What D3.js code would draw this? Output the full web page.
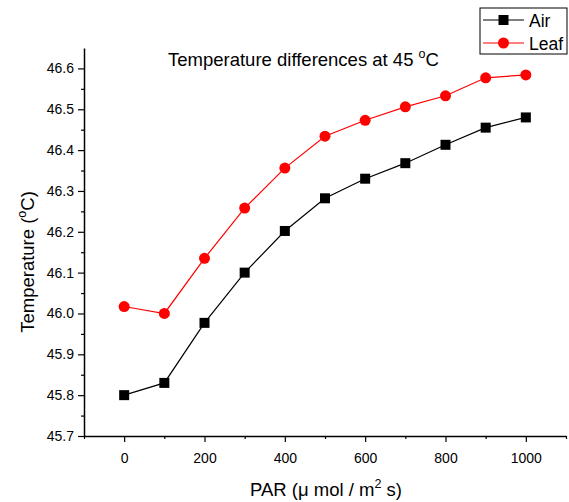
<!DOCTYPE html>
<html>
<head>
<meta charset="utf-8">
<script src="https://cdn.jsdelivr.net/npm/d3@7"></script>
<style>
  body { margin: 0; background: #fff; }
  svg { display: block; font-family: "Liberation Sans", Arial, sans-serif; }
</style>
</head>
<body>
<svg id="chart" width="569" height="502"></svg>
<script>
// PAR levels (µmol / m² s)
const par = [0, 100, 200, 300, 400, 500, 600, 700, 800, 900, 1000];
// Air temperature (°C)
const airTemp = [45.80, 45.83, 45.977, 46.10, 46.202, 46.282, 46.33, 46.368, 46.413, 46.455, 46.48];
// Leaf temperature (°C)
const leafTemp = [46.017, 46.0, 46.135, 46.258, 46.356, 46.434, 46.473, 46.506, 46.533, 46.577, 46.584];

const xTicks = [0, 200, 400, 600, 800, 1000];
const yTicks = [45.7, 45.8, 45.9, 46.0, 46.1, 46.2, 46.3, 46.4, 46.5, 46.6];

const svg = d3.select("#chart");
const plotLeft = 84, plotRight = 566, plotTop = 48, plotBottom = 436;

const x = d3.scaleLinear().domain([-100, 1100]).range([plotLeft, plotRight]);
const y = d3.scaleLinear().domain([45.7, 46.65]).range([plotBottom, plotTop]);

// minor ticks
const xMinor = d3.range(-100, 1101, 100).filter(v => !xTicks.includes(v));
const yMinor = d3.range(45.75, 46.65, 0.1).map(v => +v.toFixed(2));

const xAxis = svg.append("g").attr("transform", `translate(0,${plotBottom})`)
  .call(d3.axisBottom(x).tickValues(xTicks).tickFormat(d3.format("d")).tickSize(6).tickSizeOuter(0));
svg.append("g").attr("transform", `translate(0,${plotBottom})`)
  .call(d3.axisBottom(x).tickValues(xMinor).tickFormat("").tickSize(3).tickSizeOuter(0))
  .select(".domain").remove();

const yAxis = svg.append("g").attr("transform", `translate(${plotLeft},0)`)
  .call(d3.axisLeft(y).tickValues(yTicks).tickFormat(d3.format(".1f")).tickSize(6).tickSizeOuter(0));
svg.append("g").attr("transform", `translate(${plotLeft},0)`)
  .call(d3.axisLeft(y).tickValues(yMinor).tickFormat("").tickSize(3).tickSizeOuter(0))
  .select(".domain").remove();

svg.selectAll(".domain").attr("stroke", "#000").attr("stroke-width", 1.5);
svg.selectAll(".tick line").attr("stroke", "#000").attr("stroke-width", 1.2);
svg.selectAll(".tick text").attr("font-size", 14).attr("fill", "#000")
  .attr("font-family", "'Liberation Sans', Arial, sans-serif");
xAxis.selectAll(".tick text").attr("dy", "1.25em");
yAxis.selectAll(".tick text").attr("x", -10);

// series lines and markers
const line = d3.line().x((d, i) => x(par[i])).y(d => y(d));

svg.append("path").datum(airTemp).attr("d", line)
  .attr("fill", "none").attr("stroke", "#000").attr("stroke-width", 1.2);
svg.append("path").datum(leafTemp).attr("d", line)
  .attr("fill", "none").attr("stroke", "#ff0000").attr("stroke-width", 1.2);

const sq = 10;
svg.append("g").selectAll("rect").data(airTemp).join("rect")
  .attr("x", (d, i) => x(par[i]) - sq / 2).attr("y", d => y(d) - sq / 2)
  .attr("width", sq).attr("height", sq).attr("fill", "#000");
svg.append("g").selectAll("circle").data(leafTemp).join("circle")
  .attr("cx", (d, i) => x(par[i])).attr("cy", d => y(d)).attr("r", 5.5)
  .attr("fill", "#ff0000");

// title
const title = svg.append("text").attr("x", 168).attr("y", 66)
  .attr("font-size", 18.5).attr("fill", "#000");
title.append("tspan").text("Temperature differences at 45 ");
title.append("tspan").attr("font-size", 12.5).attr("dy", -8).text("o");
title.append("tspan").attr("dy", 8).text("C");

// y label
const yl = svg.append("text").attr("transform", "translate(34,262) rotate(-90)")
  .attr("text-anchor", "middle").attr("font-size", 18.5).attr("fill", "#000");
yl.append("tspan").text("Temperature (");
yl.append("tspan").attr("font-size", 12.5).attr("dy", -8).text("o");
yl.append("tspan").attr("dy", 8).text("C)");

// x label
const xl = svg.append("text").attr("x", 326).attr("y", 496)
  .attr("text-anchor", "middle").attr("font-size", 18.5).attr("fill", "#000");
xl.append("tspan").text("PAR (\u03bc mol / m");
xl.append("tspan").attr("font-size", 12.5).attr("dy", -8).text("2");
xl.append("tspan").attr("dy", 8).text(" s)");

// legend
const lg = svg.append("g");
lg.append("rect").attr("x", 480).attr("y", 8).attr("width", 87).attr("height", 46)
  .attr("fill", "#fff").attr("stroke", "#000").attr("stroke-width", 1);
const items = [
  { name: "Air", color: "#000", shape: "square", yy: 20 },
  { name: "Leaf", color: "#ff0000", shape: "circle", yy: 43 }
];
items.forEach(it => {
  lg.append("line").attr("x1", 483).attr("x2", 524).attr("y1", it.yy).attr("y2", it.yy)
    .attr("stroke", it.color).attr("stroke-width", 1.2);
  if (it.shape === "square") {
    lg.append("rect").attr("x", 503.5 - sq / 2).attr("y", it.yy - sq / 2)
      .attr("width", sq).attr("height", sq).attr("fill", it.color);
  } else {
    lg.append("circle").attr("cx", 503.5).attr("cy", it.yy).attr("r", 5.5).attr("fill", it.color);
  }
  lg.append("text").attr("x", 529).attr("y", it.yy + 6.5).attr("font-size", 17.5)
    .attr("fill", "#000").text(it.name);
});
</script>
</body>
</html>
